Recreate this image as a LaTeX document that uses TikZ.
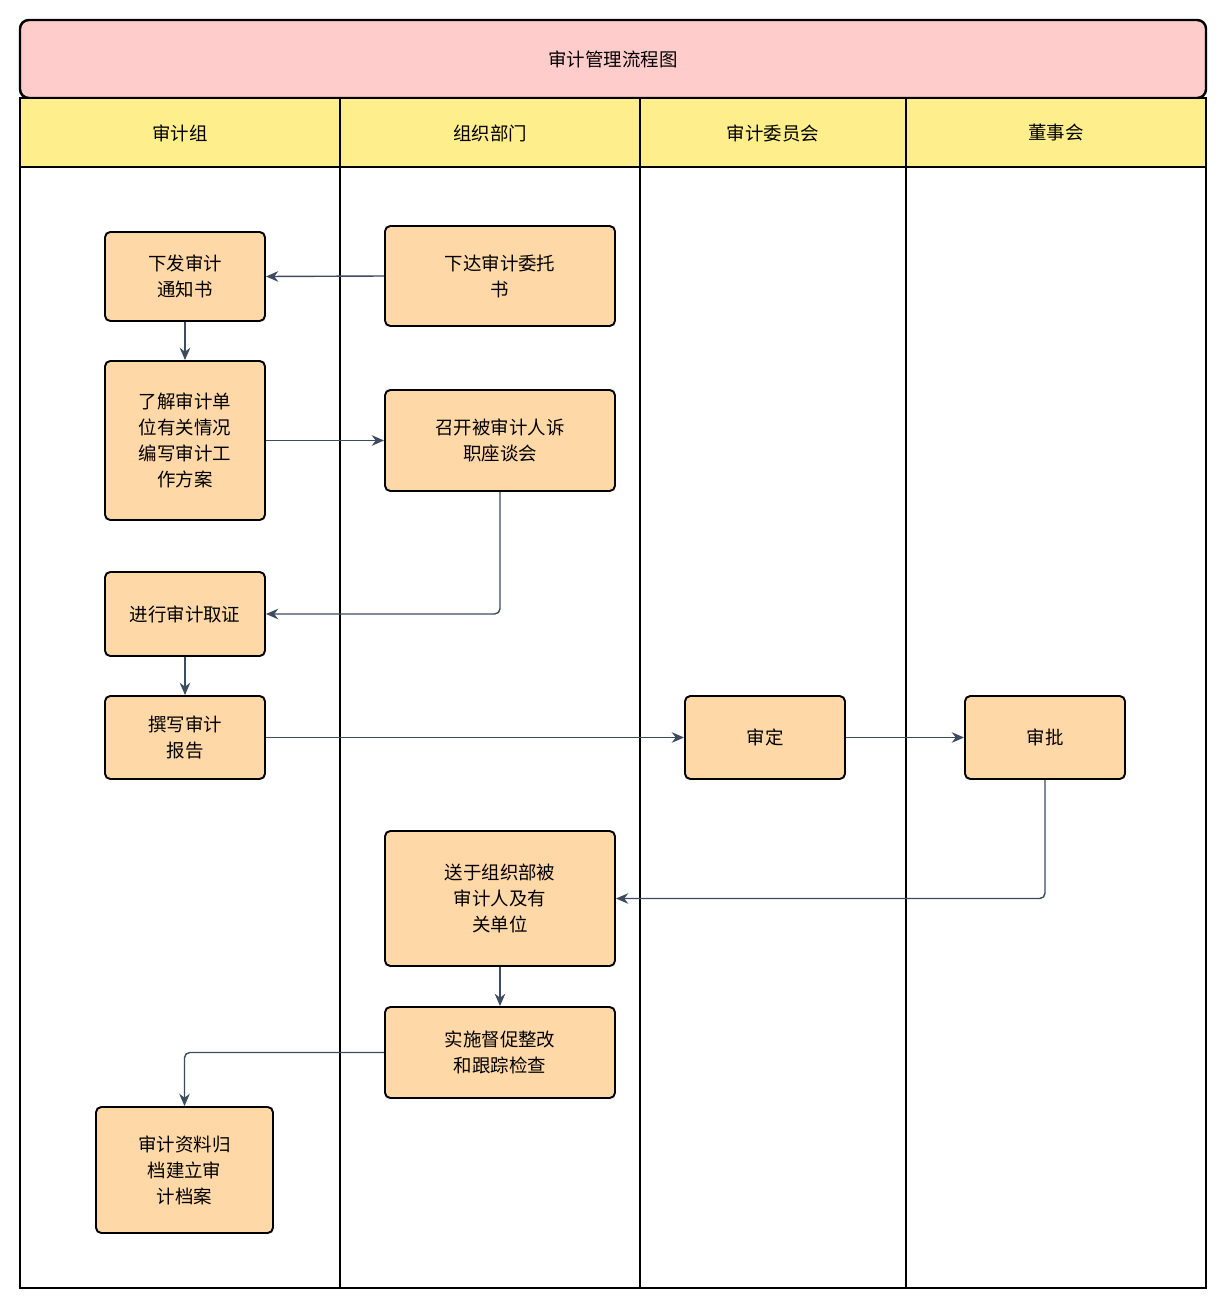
\documentclass[tikz,border=0pt]{standalone}
\usepackage{fontspec}
\setmainfont{Noto Sans CJK SC}
\usepackage{xcolor}
\usepackage{tikz}
\usetikzlibrary{arrows.meta}

\definecolor{titlepink}{HTML}{FFCCCC}
\definecolor{laneyellow}{HTML}{FFEF8C}
\definecolor{boxorange}{HTML}{FFD8A8}
\definecolor{flowline}{HTML}{3D4B5E}

\begin{document}
\begin{tikzpicture}[x=0.02cm, y=-0.02cm,
    stepbox/.style={draw, line width=1.1pt, rounded corners=3pt, fill=boxorange,
        align=center, font=\fontsize{10.5}{14.8}\selectfont, inner sep=0pt},
    flow/.style={draw=flowline, line width=0.8pt, rounded corners=3pt,
        -{Stealth[length=7pt,width=6pt]}},
    lanetitle/.style={font=\fontsize{10.5}{13}\selectfont}]
            \useasboundingbox (0,0) rectangle (1226,1308);
            % frame and lanes
            \draw[line width=1.4pt, fill=titlepink, rounded corners=5pt] (20,98) -- (20,20) -- (1206,20) -- (1206,98) -- cycle;
            \fill[laneyellow] (20,98) rectangle (1206,167);
            \draw[line width=1.4pt] (20,98) rectangle (1206,1288);
            \draw[line width=1.1pt] (20,167) -- (1206,167);
            \draw[line width=1.1pt] (340,98) -- (340,1288);
            \draw[line width=1.1pt] (640,98) -- (640,1288);
            \draw[line width=1.1pt] (906,98) -- (906,1288);
            \node at (613,59) [lanetitle] (title) {审计管理流程图};
            \node at (180,133) [lanetitle] (l1) {审计组};
            \node at (490,133) [lanetitle] (l2) {组织部门};
            \node at (773,133) [lanetitle] (l3) {审计委员会};
            \node at (1056,133) [lanetitle] (l4) {董事会};
            % steps
            \node at (185,276.5) [stepbox, minimum width=160*0.02cm, minimum height=89*0.02cm] (notice) {下发审计\\通知书};
            \node at (500,276) [stepbox, minimum width=230*0.02cm, minimum height=100*0.02cm] (entrust) {下达审计委托\\书};
            \node at (185,440.5) [stepbox, minimum width=160*0.02cm, minimum height=159*0.02cm] (plan) {了解审计单\\位有关情况\\编写审计工\\作方案};
            \node at (500,440.5) [stepbox, minimum width=230*0.02cm, minimum height=101*0.02cm] (meeting) {召开被审计人诉\\职座谈会};
            \node at (185,614) [stepbox, minimum width=160*0.02cm, minimum height=84*0.02cm] (evidence) {进行审计取证};
            \node at (185,737.5) [stepbox, minimum width=160*0.02cm, minimum height=83*0.02cm] (report) {撰写审计\\报告};
            \node at (765,737.5) [stepbox, minimum width=160*0.02cm, minimum height=83*0.02cm] (review) {审定};
            \node at (1045,737.5) [stepbox, minimum width=160*0.02cm, minimum height=83*0.02cm] (approve) {审批};
            \node at (500,898.5) [stepbox, minimum width=230*0.02cm, minimum height=135*0.02cm] (send) {送于组织部被\\审计人及有\\关单位};
            \node at (500,1052.5) [stepbox, minimum width=230*0.02cm, minimum height=91*0.02cm] (rectify) {实施督促整改\\和跟踪检查};
            \node at (184.5,1170) [stepbox, minimum width=177*0.02cm, minimum height=126*0.02cm] (archive) {审计资料归\\档建立审\\计档案};
            % connectors
            \draw[flow] (entrust.west) -- (notice.east);
            \draw[flow] (notice.south) -- (plan.north);
            \draw[flow] (plan.east) -- (meeting.west);
            \draw[flow] (meeting.south) |- (evidence.east);
            \draw[flow] (evidence.south) -- (report.north);
            \draw[flow] (report.east) -- (review.west);
            \draw[flow] (review.east) -- (approve.west);
            \draw[flow] (approve.south) |- (send.east);
            \draw[flow] (send.south) -- (rectify.north);
            \draw[flow] (rectify.west) -| (archive.north);
        \end{tikzpicture}
\end{document}
